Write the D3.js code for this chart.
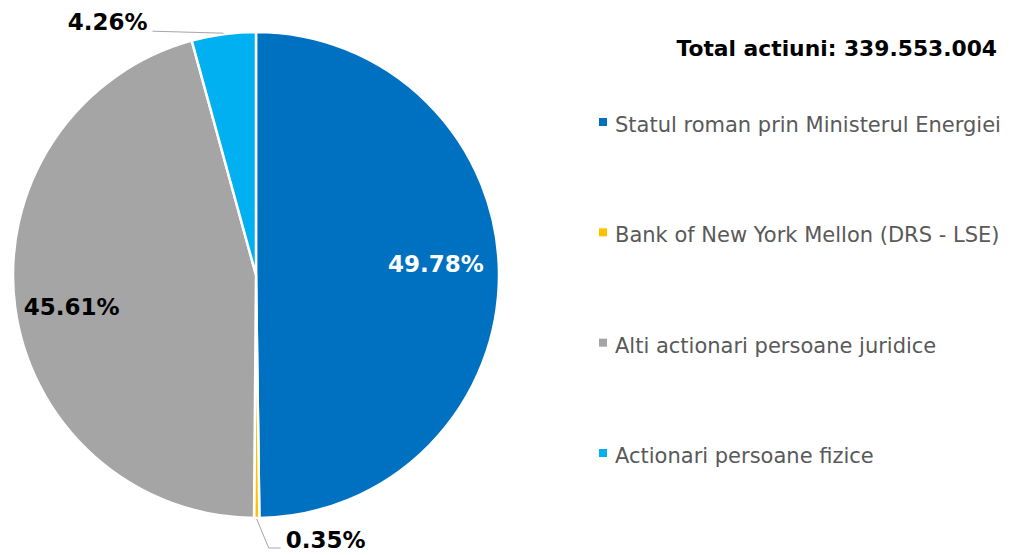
<!DOCTYPE html>
<html>
<head>
<meta charset="utf-8">
<script src="https://cdn.jsdelivr.net/npm/d3@7"></script>
<style>
  html, body { margin: 0; padding: 0; background: #fff; }
  svg { display: block; }
  text { font-family: "DejaVu Sans", Verdana, sans-serif; }
</style>
</head>
<body>
<svg id="chart" width="1024" height="555"></svg>
<script>
const categories = [
  "Statul roman prin Ministerul Energiei",
  "Bank of New York Mellon (DRS - LSE)",
  "Alti actionari persoane juridice",
  "Actionari persoane fizice"
];
const values = [49.78, 0.35, 45.61, 4.26];
const labels = ["49.78%", "0.35%", "45.61%", "4.26%"];
const colors = ["#0070C0", "#FFC000", "#A5A5A5", "#00B0F0"];
const title = "Total actiuni: 339.553.004";

const svg = d3.select("#chart");
const cx = 256, cy = 275, r = 243;

const pie = d3.pie().sort(null).value(d => d)(values);
const arc = d3.arc().innerRadius(0).outerRadius(r);

const g = svg.append("g").attr("transform", `translate(${cx},${cy})`);
g.selectAll("path").data(pie).join("path")
  .attr("d", arc)
  .attr("fill", (d, i) => colors[i])
  .attr("stroke", "#fff")
  .attr("stroke-width", 2.5)
  .attr("stroke-linejoin", "round");

const fontLbl = 23;
// inside labels
const inner = d3.arc().innerRadius(r * 0.74).outerRadius(r * 0.74);
const inside = [{ i: 0, dx: 0, dy: -10, fill: "#fff" }, { i: 2, dx: -6, dy: 9, fill: "#000" }];
inside.forEach(o => {
  const [x, y] = inner.centroid(pie[o.i]);
  g.append("text")
    .attr("x", x + o.dx).attr("y", y + o.dy)
    .attr("text-anchor", "middle")
    .attr("dominant-baseline", "central")
    .attr("font-size", fontLbl)
    .attr("font-weight", "bold")
    .attr("fill", o.fill)
    .text(labels[o.i]);
});

// small slice (index 1) - bottom
{
  const a = (pie[1].startAngle + pie[1].endAngle) / 2;
  const p0 = [Math.sin(a) * (r + 1), -Math.cos(a) * (r + 1)];
  const p1 = [p0[0] + 12, p0[1] + 29];
  const p2 = [p1[0] + 12, p1[1]];
  g.append("polyline")
    .attr("points", [p0, p1, p2].map(p => p.join(",")).join(" "))
    .attr("fill", "none").attr("stroke", "#A6A6A6").attr("stroke-width", 1);
  g.append("text")
    .attr("x", p2[0] + 5).attr("y", p2[1] - 8)
    .attr("dominant-baseline", "central")
    .attr("font-size", fontLbl).attr("font-weight", "bold").attr("fill", "#000")
    .text(labels[1]);
}
// index 3 - top left
{
  const a = (pie[3].startAngle + pie[3].endAngle) / 2;
  const p0 = [Math.sin(a) * (r + 1), -Math.cos(a) * (r + 1)];
  const p1 = [p0[0] - 71, p0[1] - 2];
  g.append("polyline")
    .attr("points", [p0, p1].map(p => p.join(",")).join(" "))
    .attr("fill", "none").attr("stroke", "#A6A6A6").attr("stroke-width", 1);
  g.append("text")
    .attr("x", p1[0] - 5).attr("y", p1[1] - 9)
    .attr("text-anchor", "end")
    .attr("dominant-baseline", "central")
    .attr("font-size", fontLbl).attr("font-weight", "bold").attr("fill", "#000")
    .text(labels[3]);
}

// title
svg.append("text")
  .attr("x", 997).attr("y", 48)
  .attr("text-anchor", "end")
  .attr("dominant-baseline", "central")
  .attr("font-size", 21.8).attr("font-weight", "bold").attr("fill", "#000")
  .text(title);

// legend
const legY = d3.scalePoint().domain(categories).range([125, 456]);
const leg = svg.append("g");
categories.forEach((c, i) => {
  const y = legY(c);
  leg.append("rect")
    .attr("x", 599).attr("y", y - 7).attr("width", 8).attr("height", 8)
    .attr("fill", colors[i]);
  leg.append("text")
    .attr("x", 615).attr("y", y)
    .attr("dominant-baseline", "central")
    .attr("font-size", 21).attr("fill", "#595959")
    .text(c);
});
</script>
</body>
</html>
